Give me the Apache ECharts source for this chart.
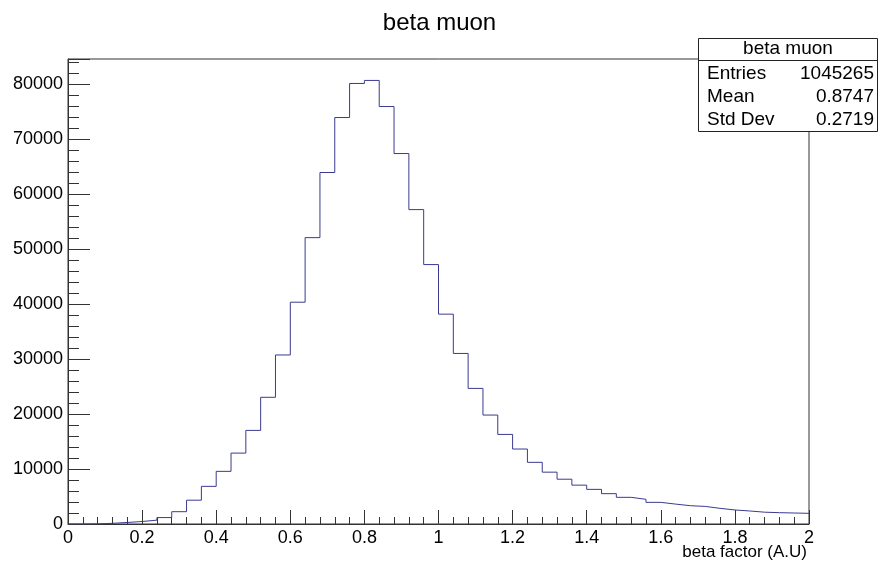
<!DOCTYPE html>
<html>
<head>
<meta charset="utf-8">
<title>beta muon</title>
<script src="https://cdn.jsdelivr.net/npm/echarts@6/dist/echarts.min.js"></script>
<style>
  html, body { margin: 0; padding: 0; background: #fff; }
  #chart { width: 879px; height: 566px; }
</style>
</head>
<body>
<div id="chart"></div>
<script>
// histogram binning (50 bins over 0..2)
const binLow = 0;
const binWidth = 0.04;
const binCounts = [
  0, 30, 120, 280, 450, 700, 1170, 2240, 4330, 6850,
  9580, 12900, 17030, 23050, 30750, 40350, 52100, 63950, 73950, 80150,
  80700, 75950, 67400, 57200, 47200, 38180, 31030, 24670, 19820, 16300,
  13640, 11220, 9430, 8150, 7070, 6300, 5520, 4850, 4490, 3940,
  3620, 3330, 3200, 2850, 2550, 2370, 2150, 2060, 2000, 1940
];

// stats box
const statsTitle = 'beta muon';
const statsLabels = ['Entries', 'Mean', 'Std Dev'];
const statsValues = ['1045265', '0.8747', '0.2719'];

const FONT = '"Liberation Sans", Arial, Helvetica, sans-serif';
const LINE = '#3a3a90';
const AXIS = '#333';

// step points at bin low edges, plus closing point at the upper edge
const stepData = binCounts.map((c, i) => [binLow + i * binWidth, c]);
stepData.push([binLow + binCounts.length * binWidth, binCounts[binCounts.length - 1]]);

const chart = echarts.init(document.getElementById('chart'), null, { renderer: 'canvas' });

const statsGraphics = [
  {
    type: 'rect',
    shape: { x: 698.5, y: 38.5, width: 179, height: 93 },
    style: { fill: '#fff', stroke: '#222', lineWidth: 1 },
    z: 100
  },
  {
    type: 'line',
    shape: { x1: 698.5, y1: 60.5, x2: 877.5, y2: 60.5 },
    style: { stroke: '#222', lineWidth: 1 },
    z: 101
  },
  {
    type: 'text',
    x: 788, y: 49,
    style: { text: statsTitle, font: '19px ' + FONT, fill: '#000', align: 'center', verticalAlign: 'middle' },
    z: 101
  },
  {
    // x axis title, right-aligned under the axis end
    type: 'text',
    x: 807, y: 552,
    style: { text: 'beta factor (A.U)', font: '17px ' + FONT, fill: '#000', align: 'right', verticalAlign: 'middle' },
    z: 101
  }
];
statsLabels.forEach((lab, i) => {
  statsGraphics.push({
    type: 'text', x: 707, y: 74 + i * 23,
    style: { text: lab, font: '19px ' + FONT, fill: '#000', align: 'left', verticalAlign: 'middle' },
    z: 101
  });
  statsGraphics.push({
    type: 'text', x: 874, y: 74 + i * 23,
    style: { text: statsValues[i], font: '19px ' + FONT, fill: '#000', align: 'right', verticalAlign: 'middle' },
    z: 101
  });
});

chart.setOption({
  animation: false,
  backgroundColor: '#fff',
  title: {
    text: 'beta muon',
    left: 'center',
    top: 6,
    textStyle: { fontFamily: FONT, fontSize: 24, fontWeight: 'normal', color: '#000' }
  },
  grid: {
    left: 68, right: 70, top: 59, bottom: 42,
    show: true, borderColor: AXIS, borderWidth: 1,
    containLabel: false,
    outerBoundsMode: 'none'
  },
  xAxis: {
    type: 'value',
    min: 0, max: 2, interval: 0.2,
    axisLine: { show: true, lineStyle: { color: AXIS, width: 1 } },
    axisTick: { show: true, inside: true, length: 14, lineStyle: { color: AXIS } },
    minorTick: { show: true, splitNumber: 5, length: 7, lineStyle: { color: AXIS } },
    splitLine: { show: false },
    axisLabel: {
      fontFamily: FONT, fontSize: 18, color: '#000', margin: 5,
      formatter: v => String(Math.round(v * 10) / 10)
    }
  },
  yAxis: [
    {
      type: 'value',
      min: 0, max: 84600, interval: 10000,
      axisLine: { show: true, lineStyle: { color: AXIS, width: 1 } },
      axisTick: { show: true, inside: true, length: 22, lineStyle: { color: AXIS } },
      splitLine: { show: false },
      axisLabel: {
        fontFamily: FONT, fontSize: 18, color: '#000', margin: 5,
        formatter: v => (v % 10000 === 0 ? String(v) : '')
      }
    },
    {
      // minor ticks every 2000
      type: 'value',
      position: 'left',
      min: 0, max: 84600, interval: 2000,
      axisLine: { show: false },
      axisTick: { show: true, inside: true, length: 11, lineStyle: { color: AXIS } },
      splitLine: { show: false },
      axisLabel: { show: false }
    }
  ],
  series: [
    {
      type: 'line',
      step: 'end',
      data: stepData,
      showSymbol: false,
      symbol: 'none',
      lineStyle: { color: LINE, width: 1 },
      z: 5
    }
  ],
  graphic: statsGraphics
});
</script>
</body>
</html>
